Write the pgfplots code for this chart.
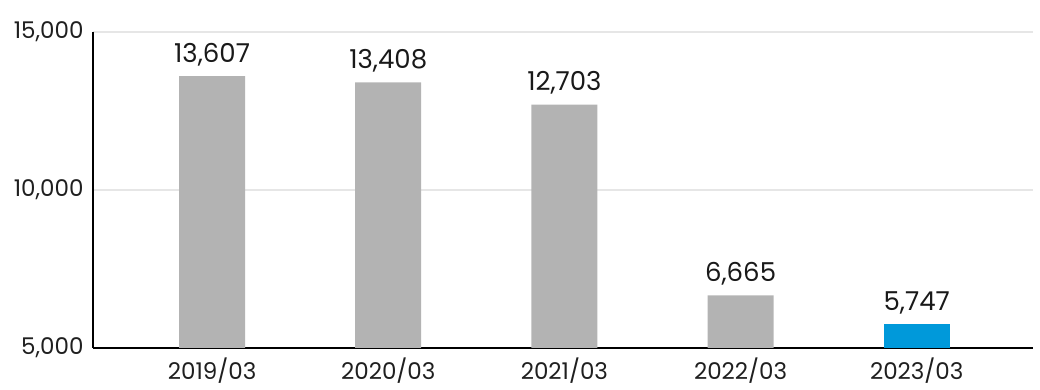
\documentclass[border=0pt]{standalone}
\usepackage{pgfplots}
\pgfplotsset{compat=1.18}
\usepackage{fontspec}
\setmainfont{Poppins}

\definecolor{bargray}{HTML}{B3B3B3}
\definecolor{barblue}{HTML}{0099DA}
\definecolor{gridgray}{HTML}{E6E6E6}

\begin{document}
\begin{tikzpicture}
\begin{axis}[
  scale only axis,
  width=940pt, height=316pt,
  xmin=-0.676, xmax=4.66,
  ymin=5000, ymax=15000,
  ytick={5000,10000,15000},
  scaled y ticks=false,
  yticklabel={\pgfmathprintnumber[fixed,1000 sep={,},assume math mode=true]{\tick}},
  xtick={0,1,2,3,4},
  xticklabels={2019/03,2020/03,2021/03,2022/03,2023/03},
  axis x line*=bottom, axis y line*=left,
  axis line style={line width=1.6pt, black},
  major tick length=0pt,
  ymajorgrids,
  grid style={line width=1.6pt, gridgray},
  tick label style={font=\fontsize{23pt}{27pt}\selectfont, text=black!88},
  yticklabel style={anchor=east, xshift=-6pt},
  xticklabel style={anchor=north, yshift=-6pt},
  ybar, bar width=66pt, bar shift=0pt,
  nodes near coords,
  nodes near coords style={font=\fontsize{26pt}{30pt}\selectfont, text=black!90, anchor=south, inner sep=0pt, yshift=10pt,
    /pgf/number format/.cd, fixed, 1000 sep={,}, assume math mode=true},
  clip=false,
]
\addplot[fill=bargray, draw=none] coordinates {(0,13607) (1,13408) (2,12703) (3,6665)};
\addplot[fill=barblue, draw=none] coordinates {(4,5747)};
\end{axis}
\pgfresetboundingbox
\path[use as bounding box] ([shift={(-93pt,-42pt)}]current axis.south west) rectangle ([shift={(7pt,32pt)}]current axis.north east);
\end{tikzpicture}
\end{document}
